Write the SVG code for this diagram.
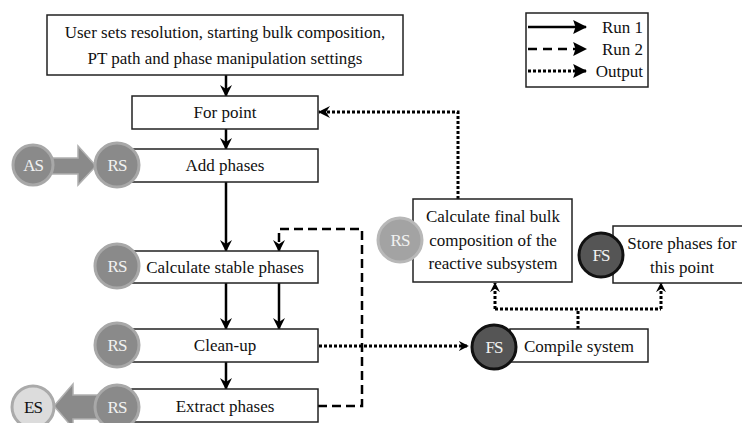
<svg xmlns="http://www.w3.org/2000/svg" width="742" height="423" viewBox="0 0 742 423">
<defs>
<style>
.box{fill:#fff;stroke:#222;stroke-width:1.5}
.t{font-size:17px;fill:#111;text-anchor:middle}
.ct{font-size:17px;fill:#f2f2f2;text-anchor:middle;letter-spacing:-1px}
.rs{fill:#8a8a8a;stroke:#a8a8a8;stroke-width:3}
.rs2{fill:#a3a3a3;stroke:#b8b8b8;stroke-width:3}
.fs{fill:#555;stroke:#111;stroke-width:3}
.es{fill:#dcdcdc;stroke:#aaa;stroke-width:3}
.solid{fill:none;stroke:#000;stroke-width:2.5}
.dash{fill:none;stroke:#000;stroke-width:2.5;stroke-dasharray:9 5}
.dot{fill:none;stroke:#000;stroke-width:3;stroke-dasharray:3 2}
.big{fill:#8a8a8a;stroke:#b0b0b0;stroke-width:1.5}
</style>
<marker id="ah" viewBox="0 0 12 12" refX="11" refY="6" markerWidth="12" markerHeight="12" markerUnits="userSpaceOnUse" orient="auto">
<path d="M0,0 L12,6 L0,12 L4,6 z" fill="#000"/>
</marker>
<marker id="ahs" viewBox="0 0 12 12" refX="11" refY="6" markerWidth="10" markerHeight="10" markerUnits="userSpaceOnUse" orient="auto">
<path d="M0,0 L12,6 L0,12 L4,6 z" fill="#000"/>
</marker>
<marker id="ahl" viewBox="0 0 12 12" refX="11" refY="6" markerWidth="14" markerHeight="14" markerUnits="userSpaceOnUse" orient="auto">
<path d="M0,0 L12,6 L0,12 L2,6 z" fill="#000"/>
</marker>
</defs>
<rect width="742" height="423" fill="#fff"/>

<g id="connectors">
<path class="solid" d="M226,75 V96" marker-end="url(#ah)"/>
<path class="solid" d="M226,129 V149" marker-end="url(#ah)"/>
<path class="solid" d="M226,182 V251" marker-end="url(#ah)"/>
<path class="solid" d="M226,283 V329" marker-end="url(#ah)"/>
<path class="solid" d="M279,283 V329" marker-end="url(#ah)"/>
<path class="solid" d="M226,362 V389" marker-end="url(#ah)"/>
<path class="dash" d="M318,406 H362 V229 H279 V251" marker-end="url(#ah)"/>
<path class="dot" d="M319,346 H468" marker-end="url(#ahs)"/>
<path class="dot" d="M458,199 V112 H319" marker-end="url(#ah)"/>
<path class="dot" d="M578,329 V309"/>
<path class="dot" d="M495,309 H661"/>
<path class="dot" d="M495,309 V283" marker-end="url(#ahs)"/>
<path class="dot" d="M661,309 V283" marker-end="url(#ahs)"/>
<path class="big" d="M52,158 H78 V146 L96,166 L78,185 V174 H52 z"/>
<path class="big" d="M100,395 H73 V384 L54,406 L73,428 V419 H100 z"/>
</g>

<g font-family="Liberation Serif, Times New Roman, serif">
<g id="user-settings">
<rect class="box" x="47" y="15" width="356" height="60"/>
<text class="t" x="225" y="38">User sets resolution, starting bulk composition,</text>
<text class="t" x="225" y="64">PT path and phase manipulation settings</text>
</g>

<g id="for-point">
<rect class="box" x="132" y="96" width="186" height="33"/>
<text class="t" x="225" y="118">For point</text>
</g>

<g id="add-phases">
<rect class="box" x="132" y="149" width="186" height="33"/>
<text class="t" x="225" y="171">Add phases</text>
<circle class="rs" cx="33" cy="165" r="20"/>
<text class="ct" x="33" y="171">AS</text>
<circle class="rs" cx="117" cy="165" r="22"/>
<text class="ct" x="117" y="171">RS</text>
</g>

<g id="calc-stable">
<rect class="box" x="132" y="251" width="186" height="32"/>
<text class="t" x="225" y="273">Calculate stable phases</text>
<circle class="rs" cx="117" cy="266" r="22"/>
<text class="ct" x="117" y="272">RS</text>
</g>

<g id="clean-up">
<rect class="box" x="132" y="329" width="186" height="33"/>
<text class="t" x="225" y="351">Clean-up</text>
<circle class="rs" cx="117" cy="345" r="22"/>
<text class="ct" x="117" y="351">RS</text>
</g>

<g id="extract-phases">
<rect class="box" x="132" y="389" width="186" height="33"/>
<text class="t" x="225" y="412">Extract phases</text>
<circle class="es" cx="33" cy="407" r="21"/>
<text class="ct" x="33" y="413" style="fill:#111">ES</text>
<circle class="rs" cx="117" cy="407" r="22"/>
<text class="ct" x="117" y="413">RS</text>
</g>

<g id="calc-final">
<rect class="box" x="413" y="199" width="159" height="83"/>
<text class="t" x="493" y="222">Calculate final bulk</text>
<text class="t" x="493" y="246">composition of the</text>
<text class="t" x="493" y="269">reactive subsystem</text>
<circle class="rs2" cx="400" cy="240" r="22"/>
<text class="ct" x="400" y="246">RS</text>
</g>

<g id="store-phases">
<rect class="box" x="613" y="226" width="135" height="57"/>
<text class="t" x="682" y="249">Store phases  for</text>
<text class="t" x="682" y="273">this point</text>
<circle class="fs" cx="601" cy="255" r="22"/>
<text class="ct" x="601" y="261">FS</text>
</g>

<g id="compile-system">
<rect class="box" x="510" y="329" width="138" height="33"/>
<text class="t" x="579" y="352">Compile system</text>
<circle class="fs" cx="494" cy="347" r="22"/>
<text class="ct" x="494" y="353">FS</text>
</g>

<g id="legend">
<rect class="box" x="526" y="13" width="122" height="74"/>
<path class="solid" d="M528,27 H586" marker-end="url(#ahl)"/>
<path class="dash" style="stroke-dasharray:9 6" d="M528,49 H586" marker-end="url(#ahl)"/>
<path class="dot" d="M528,71 H586" marker-end="url(#ahl)"/>
<text class="t" x="643" y="33" style="text-anchor:end">Run 1</text>
<text class="t" x="643" y="55" style="text-anchor:end">Run 2</text>
<text class="t" x="643" y="77" style="text-anchor:end">Output</text>
</g>
</g>
</svg>
